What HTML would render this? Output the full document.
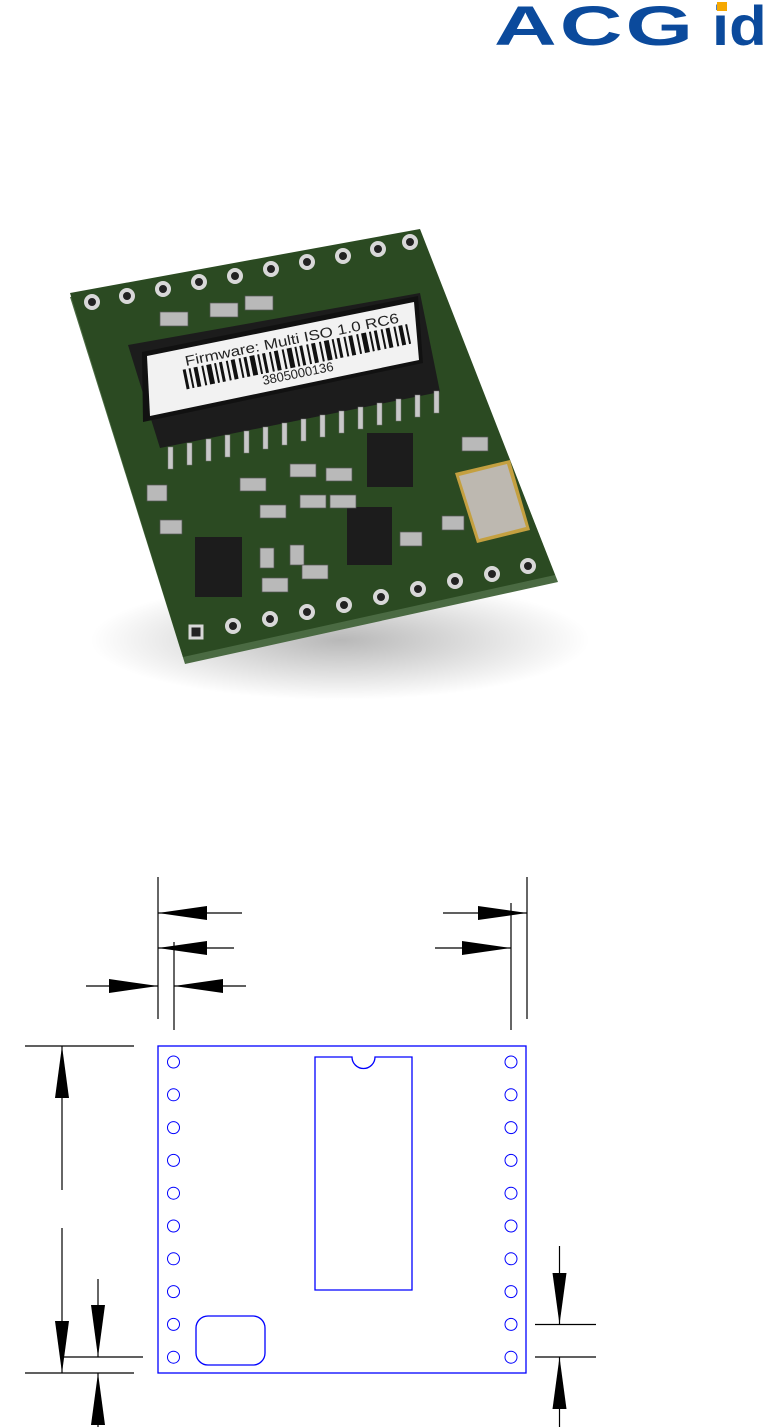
<!DOCTYPE html>
<html><head><meta charset="utf-8"><style>
html,body{margin:0;padding:0;background:#fff}
svg{display:block}
</style></head><body>
<svg width="764" height="1427" viewBox="0 0 764 1427" xmlns="http://www.w3.org/2000/svg">
<defs>
<radialGradient id="sh" cx="0.5" cy="0.5" r="0.5">
<stop offset="0" stop-color="#000" stop-opacity="0.28"/>
<stop offset="1" stop-color="#000" stop-opacity="0"/>
</radialGradient>
</defs>
<!-- logo -->
<g fill="#0b4a9c" font-family="Liberation Sans, sans-serif" font-weight="bold">
<text x="0" y="0" font-size="56" transform="translate(494,45) scale(1.55,1)" letter-spacing="2">ACG</text>
<text x="0" y="0" font-size="56" transform="translate(712,45) scale(1.1,1)">id</text>
</g>
<rect x="717" y="2" width="10" height="9" fill="#f6a800"/>

<!-- photo shadow -->
<ellipse cx="340" cy="640" rx="250" ry="60" fill="url(#sh)"/>
<!-- board edge -->
<polygon points="70,297 420,233 558,582 185,664" fill="#4a6a42"/>
<polygon points="70,293 420,229 555,575 183,657" fill="#2b4a22"/>
<!-- chip body -->
<polygon points="128,345 420,293 440,392 160,448" fill="#1c1c1c"/>
<polygon points="142,352 418,296 423,363 143,422" fill="#111"/>
<polygon points="147,356 414,302 419,360 150,416" fill="#f2f2f2"/>
<g transform="translate(186,366) rotate(-11.5)" font-family="Liberation Sans, sans-serif" fill="#222">
<text x="0" y="0" font-size="14" textLength="218" lengthAdjust="spacingAndGlyphs">Firmware:  Multi ISO 1.0 RC6</text>
<text x="72" y="34" font-size="13">3805000136</text>
<g fill="#111">
<rect x="-4" y="3" width="3" height="20"/><rect x="2" y="3" width="2" height="20"/><rect x="7" y="3" width="4" height="20"/><rect x="15" y="3" width="2" height="20"/><rect x="20" y="3" width="5" height="20"/><rect x="28" y="3" width="2" height="20"/><rect x="33" y="3" width="3" height="20"/><rect x="40" y="3" width="2" height="20"/><rect x="45" y="3" width="4" height="20"/><rect x="53" y="3" width="2" height="20"/><rect x="58" y="3" width="3" height="20"/><rect x="64" y="3" width="5" height="20"/><rect x="72" y="3" width="2" height="20"/><rect x="77" y="3" width="3" height="20"/><rect x="84" y="3" width="2" height="20"/><rect x="89" y="3" width="4" height="20"/><rect x="97" y="3" width="2" height="20"/><rect x="102" y="3" width="5" height="20"/><rect x="110" y="3" width="2" height="20"/><rect x="115" y="3" width="3" height="20"/><rect x="122" y="3" width="2" height="20"/><rect x="127" y="3" width="4" height="20"/><rect x="135" y="3" width="2" height="20"/><rect x="140" y="3" width="5" height="20"/><rect x="148" y="3" width="2" height="20"/><rect x="153" y="3" width="3" height="20"/><rect x="160" y="3" width="2" height="20"/><rect x="165" y="3" width="4" height="20"/><rect x="173" y="3" width="2" height="20"/><rect x="178" y="3" width="5" height="20"/><rect x="186" y="3" width="2" height="20"/><rect x="191" y="3" width="3" height="20"/><rect x="198" y="3" width="2" height="20"/><rect x="203" y="3" width="4" height="20"/><rect x="211" y="3" width="2" height="20"/><rect x="216" y="3" width="4" height="20"/><rect x="223" y="3" width="2" height="20"/>
</g>
</g>
<!-- chip pins -->
<g fill="#c8c8c8" stroke="#777" stroke-width="0.5">
<rect x="168" y="447" width="5" height="22"/><rect x="187" y="443" width="5" height="22"/><rect x="206" y="439" width="5" height="22"/><rect x="225" y="435" width="5" height="22"/><rect x="244" y="431" width="5" height="22"/><rect x="263" y="427" width="5" height="22"/><rect x="282" y="423" width="5" height="22"/><rect x="301" y="419" width="5" height="22"/><rect x="320" y="415" width="5" height="22"/><rect x="339" y="411" width="5" height="22"/><rect x="358" y="407" width="5" height="22"/><rect x="377" y="403" width="5" height="22"/><rect x="396" y="399" width="5" height="22"/><rect x="415" y="395" width="5" height="22"/><rect x="434" y="391" width="5" height="22"/>
</g>
<!-- black components -->
<g fill="#1c1c1c">
<rect x="195" y="537" width="47" height="60"/>
<rect x="347" y="507" width="45" height="58"/>
<rect x="367" y="433" width="46" height="54"/>
</g>
<!-- small parts -->
<g fill="#b9b9b9" stroke="#555" stroke-width="0.7">
<rect x="160" y="312" width="28" height="14"/><rect x="210" y="303" width="28" height="14"/><rect x="245" y="296" width="28" height="14"/>
<rect x="240" y="478" width="26" height="13"/><rect x="290" y="464" width="26" height="13"/><rect x="260" y="505" width="26" height="13"/><rect x="300" y="495" width="26" height="13"/><rect x="326" y="468" width="26" height="13"/><rect x="330" y="495" width="26" height="13"/>
<rect x="160" y="520" width="22" height="14"/><rect x="260" y="548" width="14" height="20"/><rect x="290" y="545" width="14" height="20"/><rect x="262" y="578" width="26" height="14"/><rect x="302" y="565" width="26" height="14"/>
<rect x="400" y="532" width="22" height="14"/><rect x="442" y="516" width="22" height="14"/><rect x="462" y="437" width="26" height="14"/><rect x="147" y="485" width="20" height="16"/>
</g>
<!-- crystal -->
<polygon points="455,473 510,460 530,530 477,543" fill="#c4a040"/>
<polygon points="459,476 507,464 526,527 479,539" fill="#bdb8b0"/>
<!-- holes -->
<g fill="#222" stroke="#d8d8d8" stroke-width="4">
<circle cx="92" cy="302" r="6"/><circle cx="127" cy="296" r="6"/><circle cx="163" cy="289" r="6"/><circle cx="199" cy="282" r="6"/><circle cx="235" cy="276" r="6"/><circle cx="271" cy="269" r="6"/><circle cx="307" cy="262" r="6"/><circle cx="343" cy="256" r="6"/><circle cx="378" cy="249" r="6"/><circle cx="410" cy="242" r="6"/>
<circle cx="233" cy="626" r="6"/><circle cx="270" cy="619" r="6"/><circle cx="307" cy="612" r="6"/><circle cx="344" cy="605" r="6"/><circle cx="381" cy="597" r="6"/><circle cx="418" cy="589" r="6"/><circle cx="455" cy="581" r="6"/><circle cx="492" cy="574" r="6"/><circle cx="528" cy="566" r="6"/>
</g>
<rect x="190" y="626" width="12" height="12" fill="#222" stroke="#d8d8d8" stroke-width="3"/>

<!-- dimension drawing -->
<g fill="none" stroke="#0000ff" stroke-width="1.3">
<rect x="158" y="1046" width="368" height="327"/>
<path d="M315,1057 H352 A11.5,11.5 0 0 0 375,1057 H412 V1290 H315 Z"/>
<rect x="196" y="1316" width="69" height="49" rx="12"/>
<g stroke-width="1">
<circle cx="173.5" cy="1062" r="6"/><circle cx="173.5" cy="1094.8" r="6"/><circle cx="173.5" cy="1127.6" r="6"/><circle cx="173.5" cy="1160.4" r="6"/><circle cx="173.5" cy="1193.2" r="6"/><circle cx="173.5" cy="1226" r="6"/><circle cx="173.5" cy="1258.8" r="6"/><circle cx="173.5" cy="1291.6" r="6"/><circle cx="173.5" cy="1324.4" r="6"/><circle cx="173.5" cy="1357.2" r="6"/>
<circle cx="511" cy="1062" r="6"/><circle cx="511" cy="1094.8" r="6"/><circle cx="511" cy="1127.6" r="6"/><circle cx="511" cy="1160.4" r="6"/><circle cx="511" cy="1193.2" r="6"/><circle cx="511" cy="1226" r="6"/><circle cx="511" cy="1258.8" r="6"/><circle cx="511" cy="1291.6" r="6"/><circle cx="511" cy="1324.4" r="6"/><circle cx="511" cy="1357.2" r="6"/>
</g>
</g>
<g stroke="#000" stroke-width="1.2" fill="none">
<line x1="158" y1="877" x2="158" y2="1019"/>
<line x1="174" y1="942" x2="174" y2="1030"/>
<line x1="527" y1="877" x2="527" y2="1019"/>
<line x1="511" y1="903" x2="511" y2="1030"/>
<line x1="158" y1="913" x2="242" y2="913"/>
<line x1="443" y1="913" x2="527" y2="913"/>
<line x1="158" y1="948" x2="234" y2="948"/>
<line x1="435" y1="948" x2="511" y2="948"/>
<line x1="86" y1="986" x2="158" y2="986"/>
<line x1="174" y1="986" x2="246" y2="986"/>
<line x1="25" y1="1046" x2="134" y2="1046"/>
<line x1="25" y1="1373" x2="134" y2="1373"/>
<line x1="62" y1="1046" x2="62" y2="1190"/>
<line x1="62" y1="1228" x2="62" y2="1373"/>
<line x1="64" y1="1357" x2="143" y2="1357"/>
<line x1="98" y1="1279" x2="98" y2="1357"/>
<line x1="98" y1="1373" x2="98" y2="1427"/>
<line x1="535" y1="1324.5" x2="596" y2="1324.5"/>
<line x1="535" y1="1357" x2="596" y2="1357"/>
<line x1="559.5" y1="1246" x2="559.5" y2="1324"/>
<line x1="559.5" y1="1357" x2="559.5" y2="1427"/>
</g>
<g fill="#000">
<polygon points="158,913 207,906 207,920"/>
<polygon points="527,913 478,906 478,920"/>
<polygon points="158,948 207,941 207,955"/>
<polygon points="511,948 462,941 462,955"/>
<polygon points="158,986 109,979 109,993"/>
<polygon points="174,986 223,979 223,993"/>
<polygon points="62,1046 55,1098 69,1098"/>
<polygon points="62,1373 55,1321 69,1321"/>
<polygon points="98,1357 91,1305 105,1305"/>
<polygon points="98,1373 91,1425 105,1425"/>
<polygon points="559.5,1324.5 552.5,1273 566.5,1273"/>
<polygon points="559.5,1357 552.5,1409 566.5,1409"/>
</g>
</svg>
</body></html>
